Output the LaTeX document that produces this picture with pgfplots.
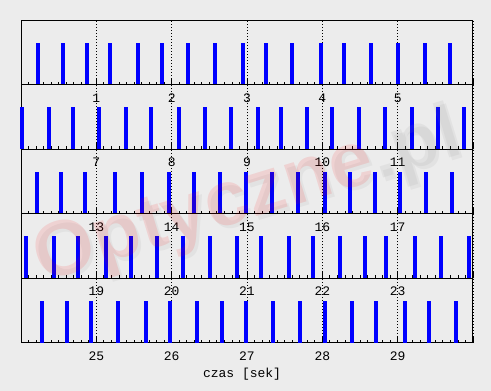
\documentclass[border=0pt]{standalone}
\usepackage{pgfplots}
\pgfplotsset{compat=1.18}
\usepackage{fontspec}
\setmainfont{Liberation Sans}
\newfontfamily\labfont{Liberation Mono}
\newfontfamily\wmfont{Liberation Sans}
\definecolor{bgc}{RGB}{236,236,236}
\pgfplotsset{
  strip/.style={
    width=452pt, height=64.5pt, scale only axis,
    ymin=0, ymax=1.536, ytick=\empty,
    axis line style={line width=1pt, black},
    tick align=inside, xtick pos=bottom,
    major tick length=7pt, minor tick length=3pt,
    minor x tick num=9,
    every tick/.style={black, line width=0.8pt},
    xmajorgrids,
    major grid style={black, line width=0.9pt, dash pattern=on 1pt off 2pt},
    clip=false,
    xticklabel style={font=\fontsize{13}{13}\labfont, anchor=center, yshift=-13pt},
    anchor=south west,
  },
  bar/.style={ycomb, blue, line width=4pt, mark=none},
}
\begin{document}
\begin{tikzpicture}
\useasboundingbox (0pt,0pt) rectangle (491pt,391pt);
\fill[bgc] (0pt,0pt) rectangle (491pt,391pt);

% row 1 : 0-6 s
\begin{axis}[strip, at={(21pt,306.2pt)}, xmin=0, xmax=6, xtick={0,...,6}, xticklabels={,1,2,3,4,5,}]
\addplot[bar] coordinates {(0.221,1) (0.553,1) (0.876,1) (1.181,1) (1.549,1) (1.872,1) (2.213,1) (2.575,1) (2.947,1) (3.248,1) (3.598,1) (3.982,1) (4.284,1) (4.642,1) (5.001,1) (5.359,1) (5.695,1)};
\end{axis}

% row 2 : 6-12 s
\begin{axis}[strip, at={(21pt,241.7pt)}, xmin=6, xmax=12, xtick={6,...,12}, xticklabels={,7,8,9,10,11,}]
\addplot[bar] coordinates {(6.013,1) (6.372,1) (6.690,1) (7.031,1) (7.394,1) (7.726,1) (8.097,1) (8.443,1) (8.788,1) (9.142,1) (9.451,1) (9.797,1) (10.128,1) (10.487,1) (10.832,1) (11.190,1) (11.536,1) (11.881,1)};
\end{axis}

% row 3 : 12-18 s
\begin{axis}[strip, at={(21pt,177.1pt)}, xmin=12, xmax=18, xtick={12,...,18}, xticklabels={,13,14,15,16,17,}]
\addplot[bar] coordinates {(12.212,1) (12.531,1) (12.850,1) (13.248,1) (13.606,1) (13.965,1) (14.297,1) (14.642,1) (14.987,1) (15.332,1) (15.677,1) (16.036,1) (16.367,1) (16.699,1) (17.031,1) (17.376,1) (17.721,1)};
\end{axis}

% row 4 : 18-24 s
\begin{axis}[strip, at={(21pt,112.6pt)}, xmin=18, xmax=24, xtick={18,...,24}, xticklabels={,19,20,21,22,23,}]
\addplot[bar] coordinates {(18.066,1) (18.438,1) (18.757,1) (19.128,1) (19.460,1) (19.805,1) (20.151,1) (20.509,1) (20.867,1) (21.186,1) (21.558,1) (21.876,1) (22.235,1) (22.567,1) (22.845,1) (23.230,1) (23.575,1) (23.947,1)};
\end{axis}

% row 5 : 24-30 s
\begin{axis}[strip, at={(21pt,48pt)}, xmin=24, xmax=30, xtick={24,...,30}, xticklabels={,25,26,27,28,29,},
  xlabel={czas [sek]}, xlabel style={font=\fontsize{13}{13}\labfont, at={(axis description cs:0.489,0)}, anchor=center, yshift=-31pt}]
\addplot[bar] coordinates {(24.279,1) (24.611,1) (24.929,1) (25.288,1) (25.659,1) (25.978,1) (26.336,1) (26.668,1) (26.987,1) (27.345,1) (27.704,1) (28.036,1) (28.394,1) (28.713,1) (29.098,1) (29.416,1) (29.775,1)};
\end{axis}

\node[rotate=17, text=black, opacity=0.04, font=\fontsize{78}{78}\wmfont\bfseries] at (251pt,189pt) {Optyczne.pl};
\node[rotate=17, opacity=0.11, font=\fontsize{78}{78}\wmfont\bfseries] at (248pt,192.5pt) {\textcolor{red}{Optyczne}\textcolor{black!45}{.pl}};
\end{tikzpicture}
\end{document}
